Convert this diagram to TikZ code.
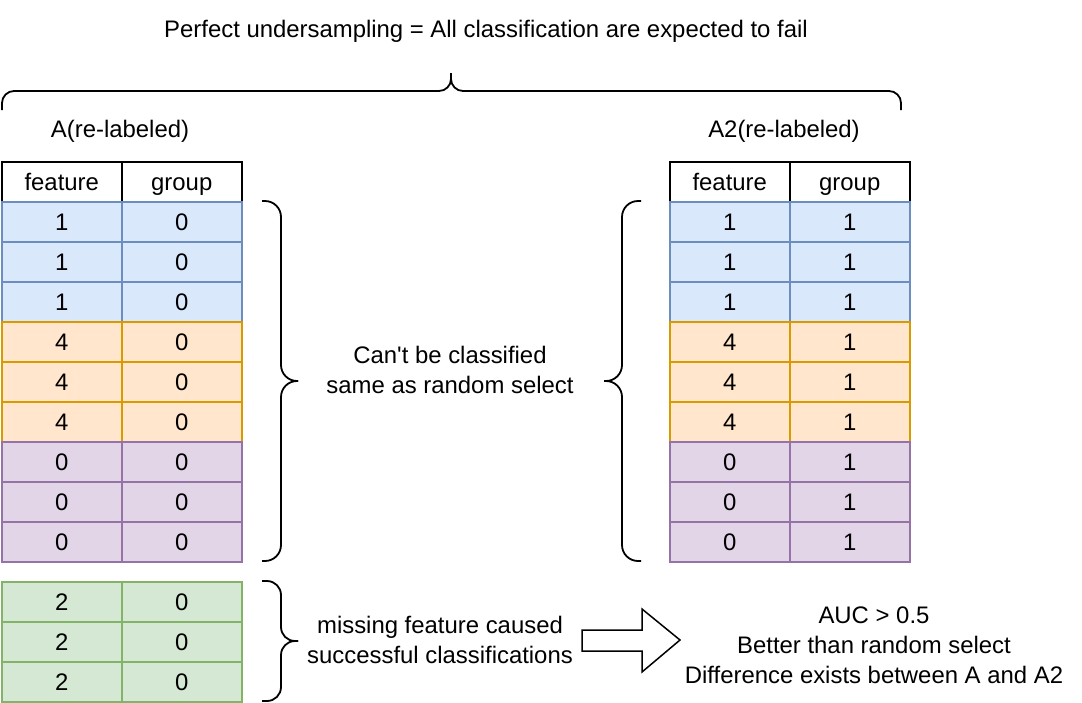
\documentclass[tikz,border=0pt]{standalone}
\usepackage{fontspec}
\setmainfont{Liberation Sans}[Ligatures=TeXOff]
\definecolor{bfill}{HTML}{DAE8FC}\definecolor{bline}{HTML}{6C8EBF}
\definecolor{ofill}{HTML}{FFE6CC}\definecolor{oline}{HTML}{D79B00}
\definecolor{pfill}{HTML}{E1D5E7}\definecolor{pline}{HTML}{9673A6}
\definecolor{gfill}{HTML}{D5E8D4}\definecolor{gline}{HTML}{82B366}
\newcommand{\fsz}{\fontsize{23.9pt}{30pt}\selectfont}
\tikzset{
  cell/.style={draw, anchor=north west, minimum width=120pt, minimum height=40pt,
    inner sep=0pt, line width=1.5pt, font=\fsz, text height=17pt, text depth=0pt},
  hdr/.style={cell, fill=white, draw=black},
  rowb/.style={cell, fill=bfill, draw=bline},
  rowo/.style={cell, fill=ofill, draw=oline},
  rowp/.style={cell, fill=pfill, draw=pline},
  rowg/.style={cell, fill=gfill, draw=gline},
  lbl/.style={font=\fsz, align=center, anchor=base, inner sep=0pt},
  brace/.style={line width=1.8pt, rounded corners=16pt},
}
\begin{document}
\begin{tikzpicture}[x=1pt,y=-1pt]
\useasboundingbox (0,0) rectangle (1082,702);
% title
\node[lbl] (title) at (486,37) {Perfect undersampling = All classification are expected to fail};
% top brace
\draw[line width=1.8pt, rounded corners=12pt] (2,110) -- (2,91) -- (451,91) -- (451,73);
\draw[line width=1.8pt, rounded corners=12pt] (901,110) -- (901,91) -- (451,91) -- (451,73);
% table labels
\node[lbl] (la) at (120,137) {A(re-labeled)};
\node[lbl] (lb) at (784,137) {A2(re-labeled)};
% left table
\node[hdr] (La0) at (1,161) {feature};
\node[hdr] (Lb0) at (121,161) {group};
\foreach \i/\f/\s in {1/1/rowb,2/1/rowb,3/1/rowb,4/4/rowo,5/4/rowo,6/4/rowo,7/0/rowp,8/0/rowp,9/0/rowp}{
  \node[\s] (La\i) at (1,161+40*\i) {\f};
  \node[\s] (Lb\i) at (121,161+40*\i) {0};
}
% right table
\node[hdr] (Ra0) at (669,161) {feature};
\node[hdr] (Rb0) at (789,161) {group};
\foreach \i/\f/\s in {1/1/rowb,2/1/rowb,3/1/rowb,4/4/rowo,5/4/rowo,6/4/rowo,7/0/rowp,8/0/rowp,9/0/rowp}{
  \node[\s] (Ra\i) at (669,161+40*\i) {\f};
  \node[\s] (Rb\i) at (789,161+40*\i) {1};
}
% green rows
\foreach \i in {0,1,2}{
  \node[rowg] (Ga\i) at (1,581+40*\i) {2};
  \node[rowg] (Gb\i) at (121,581+40*\i) {0};
}
% middle braces
\draw[brace] (262,201) -- (281,201) -- (281,381) -- (298,381);
\draw[brace] (262,561) -- (281,561) -- (281,381) -- (298,381);
\draw[brace] (641,201) -- (622,201) -- (622,381) -- (604,381);
\draw[brace] (641,561) -- (622,561) -- (622,381) -- (604,381);
\node[lbl] (mid) at (450,393) {Can't be classified\\same as random select};
% bottom brace
\draw[line width=1.8pt, rounded corners=14pt] (262,581) -- (281,581) -- (281,641) -- (298,641);
\draw[line width=1.8pt, rounded corners=14pt] (262,701) -- (281,701) -- (281,641) -- (298,641);
\node[lbl] (miss) at (440,663) {missing feature caused\\successful classifications};
% block arrow
\draw[line width=1.5pt, line join=miter] (582,630) -- (642,630) -- (642,609) -- (680,640) -- (642,672) -- (642,651) -- (582,651) -- cycle;
\node[lbl] (auc) at (874,683) {AUC > 0.5\\Better than random select\\Difference exists between A and A2};
\end{tikzpicture}
\end{document}
